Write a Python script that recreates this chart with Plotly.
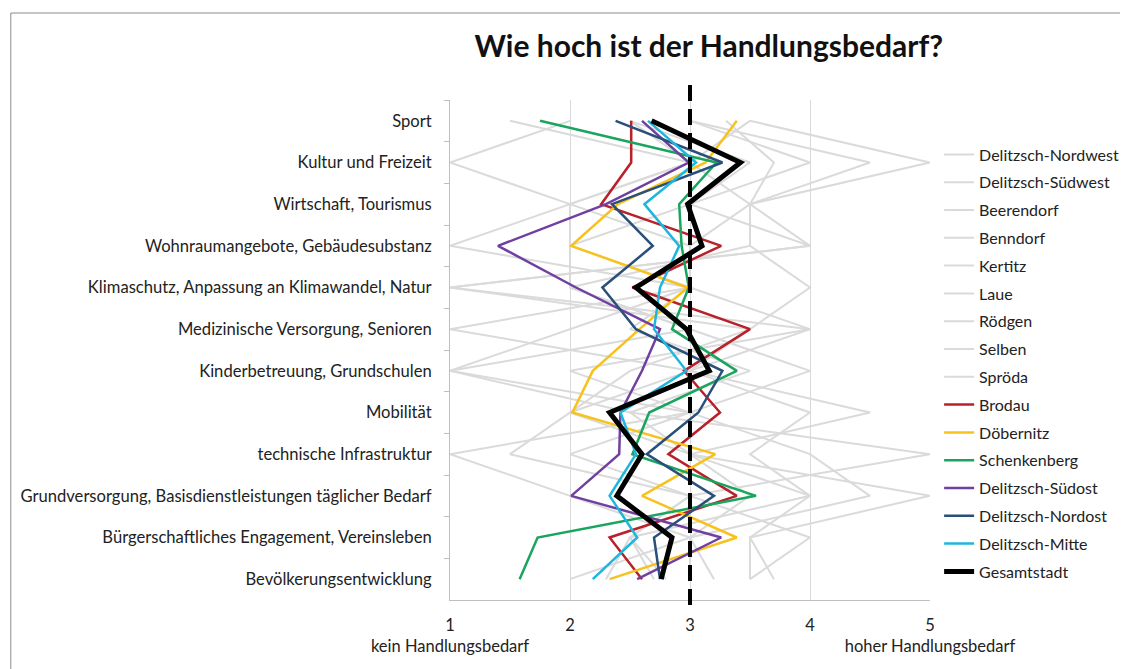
import plotly.graph_objects as go

# categories, top to bottom
themen = [
    "Sport",
    "Kultur und Freizeit",
    "Wirtschaft, Tourismus",
    "Wohnraumangebote, Gebäudesubstanz",
    "Klimaschutz, Anpassung an Klimawandel, Natur",
    "Medizinische Versorgung, Senioren",
    "Kinderbetreuung, Grundschulen",
    "Mobilität",
    "technische Infrastruktur",
    "Grundversorgung, Basisdienstleistungen täglicher Bedarf",
    "Bürgerschaftliches Engagement, Vereinsleben",
    "Bevölkerungsentwicklung",
]

# grey (rural districts) series
nordwest = [2.5, 3.0, 3.5, 3.5, 2.0, 3.0, 1.0, 2.5, 5.0, 3.0, 4.0, 3.5]
suedwest = [3.5, 5.0, 3.5, 3.0, 3.0, 4.0, 3.0, 4.5, 3.0, 5.0, 3.5, 3.7]
beerendorf = [1.5, 3.0, 2.0, 1.0, 3.0, 2.0, 1.0, 3.0, 1.0, 2.0, 3.0, 2.0]
benndorf = [3.0, 4.5, 3.5, 4.0, 1.0, 4.0, 2.0, 3.0, 4.0, 4.5, 3.0, 3.0]
kertitz = [2.0, 1.0, 2.0, 2.0, 3.0, 1.0, 3.0, 2.0, 3.0, 4.0, 2.5, 2.3]
laue = [3.0, 4.0, 3.0, 2.0, 2.0, 3.0, 4.0, 3.0, 2.0, 3.0, 2.5, 2.7]
roedgen = [3.3, 3.7, 3.5, 3.5, 4.0, 3.5, 3.0, 4.0, 3.5, 4.0, 3.5, 3.5]
selben = [3.5, 3.0, 2.0, 3.0, 3.0, 2.5, 3.5, 2.5, 3.0, 3.5, 3.0, 3.2]
sproeda = [2.5, 3.5, 3.0, 4.0, 1.0, 3.5, 2.5, 2.0, 1.5, 3.0, 2.5, 2.8]

# coloured series
brodau = [2.51, 2.51, 2.26, 3.26, 2.52, 3.5, 2.95, 3.25, 2.82, 3.39, 2.33, 2.6]
doebernitz = [3.39, 3.13, 2.4, 2.01, 2.98, 2.58, 2.19, 2.02, 3.21, 2.6, 3.39, 2.33]
schenkenberg = [1.75, 3.22, 2.91, 2.93, 2.99, 2.85, 3.39, 2.66, 2.52, 3.55, 1.73, 1.58]
suedost = [2.6, 2.99, 2.3, 1.4, 2.05, 2.75, 2.6, 2.42, 2.41, 2.01, 3.26, 2.56]
nordost = [2.38, 3.27, 2.35, 2.69, 2.27, 2.55, 3.27, 3.07, 2.64, 3.2, 2.7, 2.75]
mitte = [2.65, 3.05, 2.62, 2.91, 2.75, 2.7, 2.97, 2.42, 2.55, 2.33, 2.56, 2.19]
gesamtstadt = [2.68, 3.42, 2.98, 3.1, 2.55, 2.97, 3.16, 2.33, 2.6, 2.39, 2.85, 2.76]

grey_series = [
    ("Delitzsch-Nordwest", nordwest),
    ("Delitzsch-Südwest", suedwest),
    ("Beerendorf", beerendorf),
    ("Benndorf", benndorf),
    ("Kertitz", kertitz),
    ("Laue", laue),
    ("Rödgen", roedgen),
    ("Selben", selben),
    ("Spröda", sproeda),
]
colour_series = [
    ("Brodau", brodau, "#b8202a", 2.5),
    ("Döbernitz", doebernitz, "#f8c21c", 2.5),
    ("Schenkenberg", schenkenberg, "#1aa55e", 2.5),
    ("Delitzsch-Südost", suedost, "#7040a0", 2.5),
    ("Delitzsch-Nordost", nordost, "#2a4f7a", 2.5),
    ("Delitzsch-Mitte", mitte, "#1fb6de", 2.5),
    ("Gesamtstadt", gesamtstadt, "#000000", 5),
]

fig = go.Figure()

for name, vals in grey_series:
    fig.add_trace(go.Scatter(x=vals, y=themen, mode="lines", name=name,
                             legendgroup=name,
                             line=dict(color="#dadada", width=2)))

for name, vals, col, w in colour_series:
    fig.add_trace(go.Scatter(x=vals, y=themen, mode="lines", name=name,
                             legendgroup=name,
                             line=dict(color=col, width=w)))

# dashed reference line at 3
fig.add_shape(type="line", xref="x", yref="paper", x0=3, x1=3, y0=-0.01, y1=1.03,
              line=dict(color="black", width=4, dash="16px,8px"))

# outer frame
fig.add_shape(type="rect", xref="paper", yref="paper", x0=-0.915, x1=2, y0=-1, y1=1.174,
              line=dict(color="#8c8c8c", width=1))

fig.update_layout(
    width=1128, height=669,
    margin=dict(l=442, r=204, t=92, b=77),
    paper_bgcolor="white", plot_bgcolor="white",
    font=dict(family="Lato, Open Sans, sans-serif", size=16, color="#222"),
    title=dict(text="<b>Wie hoch ist der Handlungsbedarf?</b>", x=0.539, xref="paper",
               xanchor="center", y=0.942, yanchor="middle",
               font=dict(size=30, color="#111")),
    showlegend=True,
    legend=dict(x=1.019, y=0.925, xanchor="left", yanchor="top",
                traceorder="grouped", tracegroupgap=4,
                font=dict(size=16), itemwidth=30, bgcolor="rgba(0,0,0,0)"),
    xaxis=dict(range=[1, 5], tickmode="array", tickvals=[1, 2, 3, 4, 5],
               ticktext=["1<br>kein Handlungsbedarf", "2", "3", "4",
                         "5<br>hoher Handlungsbedarf"],
               showgrid=True, gridcolor="#d9d9d9", gridwidth=1,
               zeroline=False, showline=True, linecolor="#bfbfbf",
               ticks="", ticklabelstandoff=10, tickfont=dict(size=16.5)),
    yaxis=dict(categoryorder="array", categoryarray=themen,
               range=[11.5, -0.5], showgrid=False, zeroline=False,
               showline=True, linecolor="#bfbfbf",
               ticks="outside", tickson="boundaries", ticklen=5, tickcolor="#bfbfbf",
               ticklabelstandoff=14, tickfont=dict(size=16.6)),
)

fig.write_html("out.html")
